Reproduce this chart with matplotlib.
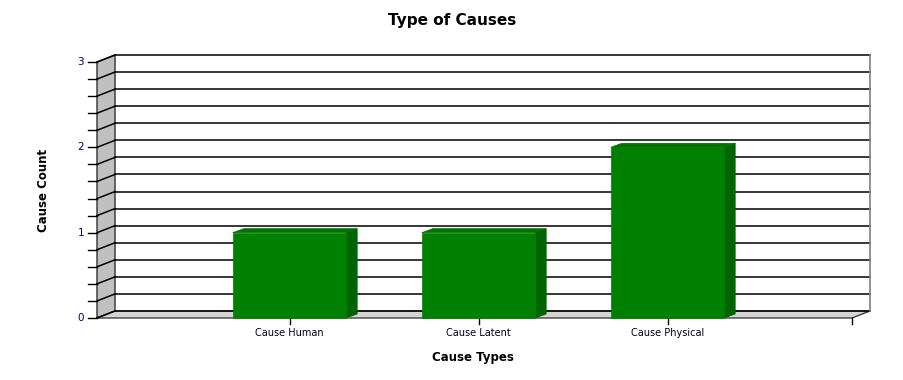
import numpy as np
import matplotlib
matplotlib.use("Agg")
import matplotlib.pyplot as plt
from matplotlib.patches import Polygon

# data
categories = ["Cause Human", "Cause Latent", "Cause Physical"]
counts = [1, 1, 2]
y_max = 3
grid_step = 0.2

W, H = 904, 380
fig = plt.figure(figsize=(W / 100, H / 100), dpi=100)
fig.patch.set_facecolor("white")

# front plane of the plot area in pixels
left_px, right_px, bottom_px, top_px = 97, 852, 318, 62
ax = fig.add_axes([left_px / W, 1 - bottom_px / H,
                   (right_px - left_px) / W, (bottom_px - top_px) / H])
slot_px = 189.0
x0 = -(289.5 - left_px) / slot_px
x1 = x0 + (right_px - left_px) / slot_px
ax.set_xlim(x0, x1)
ax.set_ylim(0, y_max)
ax.axis("off")

px_y = (bottom_px - top_px) / y_max
# wall depth and bar depth (data units)
dx, dy = 18 / slot_px, 7 / px_y
bdx, bdy = 11 / slot_px, 4 / px_y

# left wall and floor
ax.add_patch(Polygon([(x0, 0), (x0, y_max), (x0 + dx, y_max + dy), (x0 + dx, dy)],
                     closed=True, fc="#c0c0c0", ec="#303030", lw=1, clip_on=False, zorder=1))
ax.add_patch(Polygon([(x0, 0), (x1, 0), (x1 + dx, dy), (x0 + dx, dy)],
                     closed=True, fc="#d4d4d4", ec="#404040", lw=1, clip_on=False, zorder=1))

# grid on back wall + left wall, ticks on front
levels = np.arange(0, y_max + 1e-9, grid_step)
for v in levels:
    ax.plot([x0 + dx, x1 + dx], [v + dy, v + dy], color="black", lw=1.1, clip_on=False, zorder=2)
    ax.plot([x0, x0 + dx], [v, v + dy], color="black", lw=1.1, clip_on=False, zorder=2)
    ax.plot([x0 - 9 / slot_px, x0], [v, v], color="black", lw=1, clip_on=False, zorder=2)
    if abs(v - round(v)) < 1e-6:
        ax.text(x0 - 13 / slot_px, v, str(int(round(v))), ha="right", va="center",
                fontsize=7.5, color="#000060")
ax.plot([x1 + dx, x1 + dx], [dy, y_max + dy], color="#808080", lw=1.2, clip_on=False, zorder=2)
ax.plot([x1, x1], [0, -6 / px_y], color="black", lw=1, clip_on=False)

# bars
bw = 0.6
for i, v in enumerate(counts):
    l, r = i - bw / 2, i + bw / 2
    ax.add_patch(Polygon([(r, 0), (r, v), (r + bdx, v + bdy), (r + bdx, bdy)],
                         closed=True, fc="#006400", ec="#006400", lw=0.5,
                         clip_on=False, zorder=10))
    ax.add_patch(Polygon([(l, v), (r, v), (r + bdx, v + bdy), (l + bdx, v + bdy)],
                         closed=True, fc="#007300", ec="#007300", lw=0.5,
                         clip_on=False, zorder=10))
    ax.add_patch(Polygon([(l, 0), (r, 0), (r, v), (l, v)],
                         closed=True, fc="#008000", ec="#008000", lw=0.5,
                         clip_on=False, zorder=11))
    ax.plot([i, i], [0, -6 / px_y], color="black", lw=1, clip_on=False)
    ax.text(i, -10 / px_y, categories[i], ha="center", va="top", fontsize=7, color="#000020")

fig.text(452 / W, 1 - 20 / H, "Type of Causes", ha="center", va="center",
         fontsize=11, fontweight="bold")
fig.text(473 / W, 1 - 357 / H, "Cause Types", ha="center", va="center",
         fontsize=8.5, fontweight="bold")
fig.text(44 / W, 1 - 190 / H, "Cause Count", ha="center", va="center",
         fontsize=8.5, fontweight="bold", rotation=90)

fig.savefig("out.png", dpi=100)
